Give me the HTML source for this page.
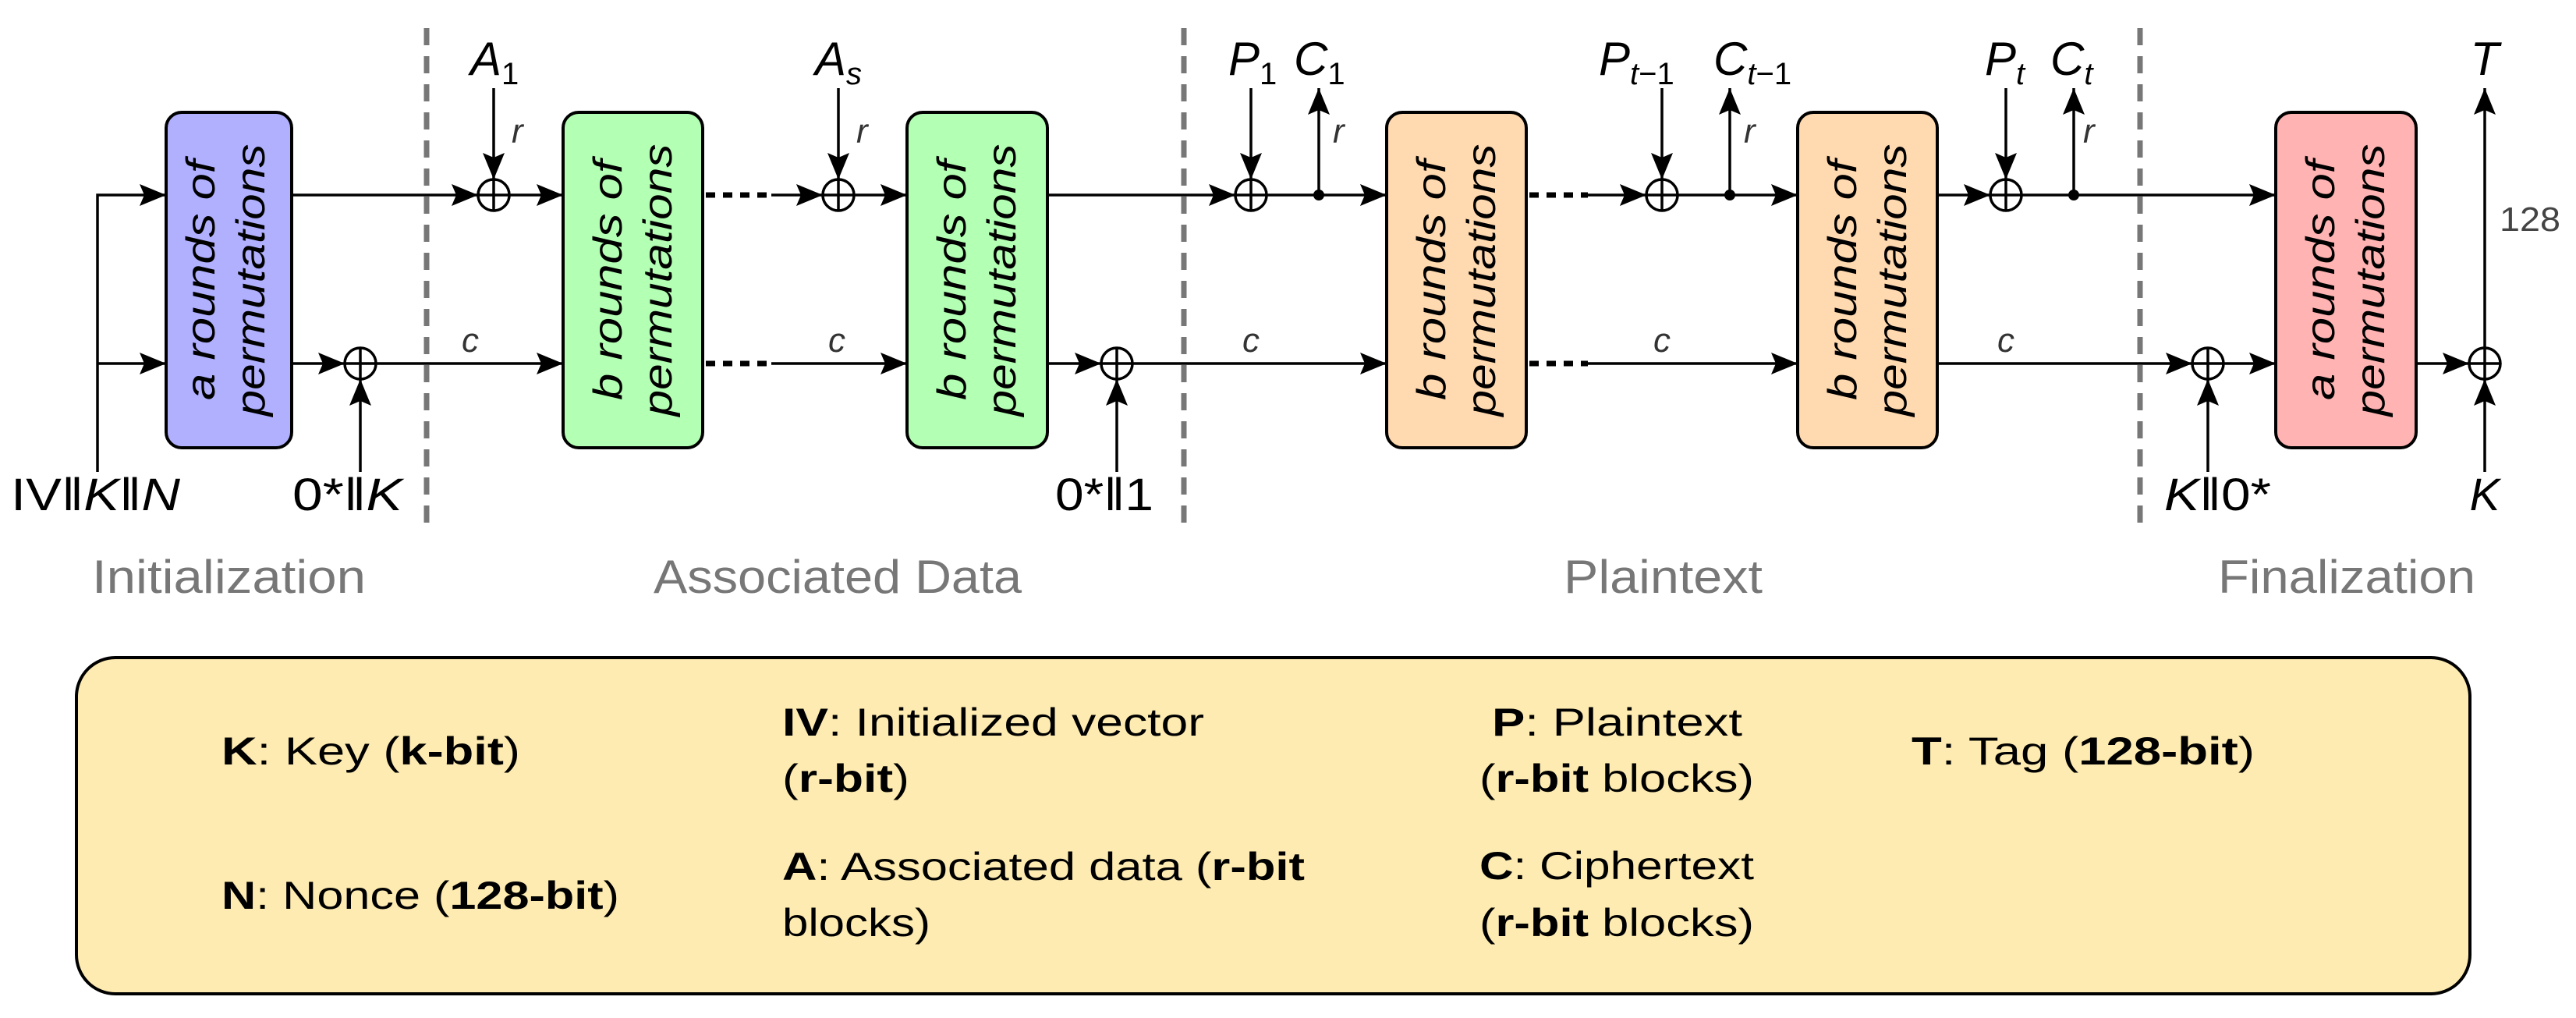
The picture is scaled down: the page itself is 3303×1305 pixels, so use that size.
<!DOCTYPE html>
<html><head><meta charset="utf-8"><style>
html,body{margin:0;padding:0;background:#fff;}
svg{display:block;}
text{font-family:"Liberation Sans","DejaVu Sans",sans-serif;}
.m{font-style:italic;}
</style></head><body>
<svg width="3303" height="1305" viewBox="0 0 3303 1305" xmlns="http://www.w3.org/2000/svg">
<defs>
<marker id="ah" viewBox="0 0 34 28" refX="34" refY="14" markerWidth="34" markerHeight="28" markerUnits="userSpaceOnUse" orient="auto">
<path d="M0,0 L34,14 L0,28 L6,14 z" fill="#000"/>
</marker>
</defs>
<g stroke="#777" stroke-width="7" stroke-dasharray="22 14">
<line x1="547" y1="36" x2="547" y2="681"/>
<line x1="1518" y1="36" x2="1518" y2="681"/>
<line x1="2744" y1="36" x2="2744" y2="681"/>
</g>

<g stroke="#000" stroke-width="4">
<rect x="213" y="144" width="161" height="430" rx="20" fill="#B0B0FF"/>
<rect x="722" y="144" width="179" height="430" rx="20" fill="#B3FFB3"/>
<rect x="1163" y="144" width="180" height="430" rx="20" fill="#B3FFB3"/>
<rect x="1778" y="144" width="179" height="430" rx="20" fill="#FFD9B0"/>
<rect x="2305" y="144" width="179" height="430" rx="20" fill="#FFD9B0"/>
<rect x="2918" y="144" width="180" height="430" rx="20" fill="#FFB3B3"/>
</g>
<g class="m" font-size="52" fill="#000" text-anchor="middle">
<text class="m" transform="translate(275,359) rotate(-90)" textLength="308" lengthAdjust="spacingAndGlyphs">a rounds of</text>
<text class="m" transform="translate(339,359) rotate(-90)" textLength="349" lengthAdjust="spacingAndGlyphs">permutations</text>
<text class="m" transform="translate(797,359) rotate(-90)" textLength="308" lengthAdjust="spacingAndGlyphs">b rounds of</text>
<text class="m" transform="translate(861,359) rotate(-90)" textLength="349" lengthAdjust="spacingAndGlyphs">permutations</text>
<text class="m" transform="translate(1238,359) rotate(-90)" textLength="308" lengthAdjust="spacingAndGlyphs">b rounds of</text>
<text class="m" transform="translate(1302,359) rotate(-90)" textLength="349" lengthAdjust="spacingAndGlyphs">permutations</text>
<text class="m" transform="translate(1853,359) rotate(-90)" textLength="308" lengthAdjust="spacingAndGlyphs">b rounds of</text>
<text class="m" transform="translate(1917,359) rotate(-90)" textLength="349" lengthAdjust="spacingAndGlyphs">permutations</text>
<text class="m" transform="translate(2380,359) rotate(-90)" textLength="308" lengthAdjust="spacingAndGlyphs">b rounds of</text>
<text class="m" transform="translate(2444,359) rotate(-90)" textLength="349" lengthAdjust="spacingAndGlyphs">permutations</text>
<text class="m" transform="translate(2993,359) rotate(-90)" textLength="308" lengthAdjust="spacingAndGlyphs">a rounds of</text>
<text class="m" transform="translate(3057,359) rotate(-90)" textLength="349" lengthAdjust="spacingAndGlyphs">permutations</text>
</g>

<g stroke="#000" stroke-width="3.5" fill="none">
<polyline points="125,605 125,250 213,250" marker-end="url(#ah)"/>
<line x1="125" y1="466" x2="213" y2="466" marker-end="url(#ah)"/>
<line x1="374" y1="250" x2="613" y2="250" marker-end="url(#ah)"/>
<line x1="653" y1="250" x2="722" y2="250" marker-end="url(#ah)"/>
<line x1="989" y1="250" x2="1055" y2="250" marker-end="url(#ah)"/>
<line x1="1095" y1="250" x2="1163" y2="250" marker-end="url(#ah)"/>
<line x1="1343" y1="250" x2="1584" y2="250" marker-end="url(#ah)"/>
<line x1="1624" y1="250" x2="1778" y2="250" marker-end="url(#ah)"/>
<line x1="2036" y1="250" x2="2111" y2="250" marker-end="url(#ah)"/>
<line x1="2151" y1="250" x2="2305" y2="250" marker-end="url(#ah)"/>
<line x1="2484" y1="250" x2="2552" y2="250" marker-end="url(#ah)"/>
<line x1="2592" y1="250" x2="2918" y2="250" marker-end="url(#ah)"/>
<line x1="374" y1="466" x2="442" y2="466" marker-end="url(#ah)"/>
<line x1="482" y1="466" x2="722" y2="466" marker-end="url(#ah)"/>
<line x1="989" y1="466" x2="1163" y2="466" marker-end="url(#ah)"/>
<line x1="1343" y1="466" x2="1412" y2="466" marker-end="url(#ah)"/>
<line x1="1452" y1="466" x2="1778" y2="466" marker-end="url(#ah)"/>
<line x1="2036" y1="466" x2="2305" y2="466" marker-end="url(#ah)"/>
<line x1="2484" y1="466" x2="2811" y2="466" marker-end="url(#ah)"/>
<line x1="2851" y1="466" x2="2918" y2="466" marker-end="url(#ah)"/>
<line x1="3098" y1="466" x2="3166" y2="466" marker-end="url(#ah)"/>
<line x1="633" y1="113" x2="633" y2="230" marker-end="url(#ah)"/>
<line x1="1075" y1="113" x2="1075" y2="230" marker-end="url(#ah)"/>
<line x1="1604" y1="113" x2="1604" y2="230" marker-end="url(#ah)"/>
<line x1="2131" y1="113" x2="2131" y2="230" marker-end="url(#ah)"/>
<line x1="2572" y1="113" x2="2572" y2="230" marker-end="url(#ah)"/>
<line x1="1691" y1="250" x2="1691" y2="113" marker-end="url(#ah)"/>
<line x1="2218" y1="250" x2="2218" y2="113" marker-end="url(#ah)"/>
<line x1="2659" y1="250" x2="2659" y2="113" marker-end="url(#ah)"/>
<line x1="3186" y1="446" x2="3186" y2="113" marker-end="url(#ah)"/>
<line x1="462" y1="605" x2="462" y2="486" marker-end="url(#ah)"/>
<line x1="1432" y1="605" x2="1432" y2="486" marker-end="url(#ah)"/>
<line x1="2831" y1="605" x2="2831" y2="486" marker-end="url(#ah)"/>
<line x1="3186" y1="605" x2="3186" y2="486" marker-end="url(#ah)"/>
</g>
<g stroke="#000" stroke-width="7" stroke-dasharray="12 10">
<line x1="905" y1="250" x2="989" y2="250"/>
<line x1="905" y1="466" x2="989" y2="466"/>
<line x1="1961" y1="250" x2="2036" y2="250"/>
<line x1="1961" y1="466" x2="2036" y2="466"/>
</g>
<g stroke="#000" stroke-width="3.5" fill="#fff">
<g><circle cx="633" cy="250" r="20"/><path d="M613,250H653M633,230V270"/></g>
<g><circle cx="1075" cy="250" r="20"/><path d="M1055,250H1095M1075,230V270"/></g>
<g><circle cx="1604" cy="250" r="20"/><path d="M1584,250H1624M1604,230V270"/></g>
<g><circle cx="2131" cy="250" r="20"/><path d="M2111,250H2151M2131,230V270"/></g>
<g><circle cx="2572" cy="250" r="20"/><path d="M2552,250H2592M2572,230V270"/></g>
<g><circle cx="462" cy="466" r="20"/><path d="M442,466H482M462,446V486"/></g>
<g><circle cx="1432" cy="466" r="20"/><path d="M1412,466H1452M1432,446V486"/></g>
<g><circle cx="2831" cy="466" r="20"/><path d="M2811,466H2851M2831,446V486"/></g>
<g><circle cx="3186" cy="466" r="20"/><path d="M3166,466H3206M3186,446V486"/></g>
</g>
<g fill="#000">
<circle cx="1691" cy="250" r="7"/><circle cx="2218" cy="250" r="7"/><circle cx="2659" cy="250" r="7"/>
</g>

<g font-size="60" fill="#000">
<text x="603" y="96" class="m">A<tspan font-size="40" dy="12" font-style="normal">1</tspan></text>
<text x="1045" y="96" class="m">A<tspan font-size="40" dy="12">s</tspan></text>
<text x="1575" y="96" class="m">P<tspan font-size="40" dy="12" font-style="normal">1</tspan></text>
<text x="1659" y="96" class="m">C<tspan font-size="40" dy="12" font-style="normal">1</tspan></text>
<text x="2050" y="96" class="m">P<tspan font-size="40" dy="12">t</tspan><tspan font-size="40" font-style="normal">−1</tspan></text>
<text x="2197" y="96" class="m">C<tspan font-size="40" dy="12">t</tspan><tspan font-size="40" font-style="normal">−1</tspan></text>
<text x="2545" y="96" class="m">P<tspan font-size="40" dy="12">t</tspan></text>
<text x="2629" y="96" class="m">C<tspan font-size="40" dy="12">t</tspan></text>
<text x="3186" y="96" class="m" text-anchor="middle">T</text>
</g>
<g font-size="44" fill="#333">
<text x="656" y="183" class="m">r</text>
<text x="1098" y="183" class="m">r</text>
<text x="1709" y="183" class="m">r</text>
<text x="2236" y="183" class="m">r</text>
<text x="2671" y="183" class="m">r</text>
<text x="603" y="451" class="m" text-anchor="middle">c</text>
<text x="1073" y="451" class="m" text-anchor="middle">c</text>
<text x="1604" y="451" class="m" text-anchor="middle">c</text>
<text x="2131" y="451" class="m" text-anchor="middle">c</text>
<text x="2572" y="451" class="m" text-anchor="middle">c</text>
</g>
<text x="3205" y="296" font-size="44" fill="#444" textLength="78" lengthAdjust="spacingAndGlyphs">128</text>

<g font-size="58" fill="#000">
<text x="14" y="654" textLength="217" lengthAdjust="spacingAndGlyphs">IV‖<tspan font-style="italic">K</tspan>‖<tspan font-style="italic">N</tspan></text>
<text x="375" y="654" textLength="141" lengthAdjust="spacingAndGlyphs">0*‖<tspan font-style="italic">K</tspan></text>
<text x="1353" y="654" textLength="126" lengthAdjust="spacingAndGlyphs">0*‖1</text>
<text x="2775" y="654" textLength="137" lengthAdjust="spacingAndGlyphs"><tspan font-style="italic">K</tspan>‖0*</text>
<text x="3186" y="654" text-anchor="middle" font-style="italic">K</text>
</g>

<g font-size="60" fill="#777">
<text x="118" y="760" textLength="351" lengthAdjust="spacingAndGlyphs">Initialization</text>
<text x="838" y="760" textLength="472" lengthAdjust="spacingAndGlyphs">Associated Data</text>
<text x="2005" y="760" textLength="255" lengthAdjust="spacingAndGlyphs">Plaintext</text>
<text x="2844" y="760" textLength="330" lengthAdjust="spacingAndGlyphs">Finalization</text>
</g>

<rect x="98" y="843" width="3069" height="431" rx="50" ry="50" fill="#FDEBB1" stroke="#000" stroke-width="4"/>
<g font-size="50" fill="#000">
<text x="284" y="980" textLength="383" lengthAdjust="spacingAndGlyphs"><tspan font-weight="bold">K</tspan>: Key (<tspan font-weight="bold">k-bit</tspan>)</text>
<text x="284" y="1165" textLength="510" lengthAdjust="spacingAndGlyphs"><tspan font-weight="bold">N</tspan>: Nonce (<tspan font-weight="bold">128-bit</tspan>)</text>
<text x="1003" y="943" textLength="541" lengthAdjust="spacingAndGlyphs"><tspan font-weight="bold">IV</tspan>: Initialized vector</text>
<text x="1003" y="1015" textLength="163" lengthAdjust="spacingAndGlyphs">(<tspan font-weight="bold">r-bit</tspan>)</text>
<text x="1003" y="1128" textLength="670" lengthAdjust="spacingAndGlyphs"><tspan font-weight="bold">A</tspan>: Associated data (<tspan font-weight="bold">r-bit</tspan></text>
<text x="1003" y="1200" textLength="190" lengthAdjust="spacingAndGlyphs">blocks)</text>
<text x="1913" y="943" textLength="321" lengthAdjust="spacingAndGlyphs"><tspan font-weight="bold">P</tspan>: Plaintext</text>
<text x="1897" y="1015" textLength="352" lengthAdjust="spacingAndGlyphs">(<tspan font-weight="bold">r-bit</tspan> blocks)</text>
<text x="1897" y="1127" textLength="352" lengthAdjust="spacingAndGlyphs"><tspan font-weight="bold">C</tspan>: Ciphertext</text>
<text x="1897" y="1200" textLength="352" lengthAdjust="spacingAndGlyphs">(<tspan font-weight="bold">r-bit</tspan> blocks)</text>
<text x="2451" y="980" textLength="440" lengthAdjust="spacingAndGlyphs"><tspan font-weight="bold">T</tspan>: Tag (<tspan font-weight="bold">128-bit</tspan>)</text>
</g>
</svg>
</body></html>
